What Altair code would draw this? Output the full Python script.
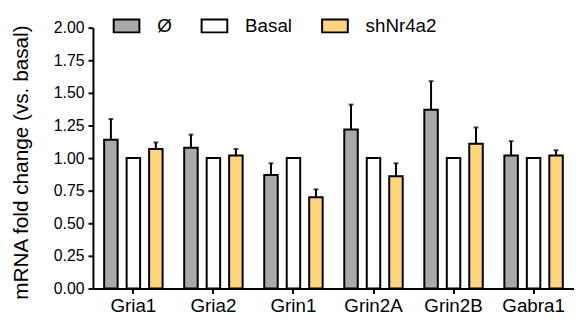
import altair as alt
import pandas as pd

genes = ["Gria1", "Gria2", "Grin1", "Grin2A", "Grin2B", "Gabra1"]
groups = ["Ø", "Basal", "shNr4a2"]
colors = ["#a9a9a9", "#ffffff", "#ffd47a"]

mean_empty = [1.14, 1.08, 0.87, 1.22, 1.37, 1.02]
sem_empty = [0.16, 0.10, 0.09, 0.19, 0.22, 0.11]
mean_basal = [1.00, 1.00, 1.00, 1.00, 1.00, 1.00]
sem_basal = [0.0, 0.0, 0.0, 0.0, 0.0, 0.0]
mean_sh = [1.07, 1.02, 0.70, 0.86, 1.11, 1.02]
sem_sh = [0.05, 0.05, 0.06, 0.10, 0.125, 0.04]

rows = []
for g, means, sems in zip(groups, [mean_empty, mean_basal, mean_sh], [sem_empty, sem_basal, sem_sh]):
    for gene, m, s in zip(genes, means, sems):
        rows.append({"gene": gene, "group": g, "mean": m, "top": m + s, "sem": s})
df = pd.DataFrame(rows)

FONT = "Liberation Sans"

xenc = alt.X("gene:N", sort=genes, title=None,
             scale=alt.Scale(paddingInner=0.27, paddingOuter=0.14),
             axis=alt.Axis(labelAngle=0, labelFontSize=19, labelColor="black", labelFont=FONT,
                           labelAlign="center", labelBaseline="top",
                           tickSize=5, tickWidth=2, tickColor="black",
                           domainWidth=2, domainColor="black", labelPadding=3))
xoff = alt.XOffset("group:N", sort=groups, scale=alt.Scale(paddingInner=0.4, paddingOuter=0))

yscale = alt.Scale(domain=[0, 2])
yaxis = alt.Axis(values=[0, 0.25, 0.5, 0.75, 1.0, 1.25, 1.5, 1.75, 2.0], format=".2f",
                 labelFontSize=16, labelColor="black", labelFont=FONT, labelOverlap=False,
                 tickSize=5, tickWidth=2, tickColor="black",
                 domainWidth=2, domainColor="black", grid=False,
                 titleFontSize=21, titleFontWeight="normal", titleFont=FONT,
                 titleColor="black", titlePadding=22, titleY=136, labelPadding=4)
ytitle = "mRNA fold change (vs. basal)"

base = alt.Chart(df)

bars = base.mark_bar(stroke="black", strokeWidth=2).encode(
    x=xenc,
    xOffset=xoff,
    y=alt.Y("mean:Q", scale=yscale, title=ytitle, axis=yaxis),
    color=alt.Color("group:N", sort=groups,
                    scale=alt.Scale(domain=groups, range=colors),
                    legend=alt.Legend(title=None, orient="none", direction="horizontal",
                                      legendX=20, legendY=-16, padding=0,
                                      symbolType="M-1,-0.5H1V0.5H-1Z", symbolSize=676,
                                      symbolStrokeColor="black", symbolStrokeWidth=2,
                                      symbolOpacity=1,
                                      labelFontSize=19, labelFont=FONT, labelColor="black",
                                      labelOffset=17, columnPadding=26)),
)

err = base.transform_filter("datum.sem > 0")

rules = err.mark_rule(color="black", strokeWidth=2).encode(
    x=xenc,
    xOffset=xoff,
    y=alt.Y("mean:Q", scale=yscale, title=ytitle, axis=yaxis),
    y2="top:Q",
)

caps = err.mark_tick(color="black", thickness=2, size=5, orient="horizontal").encode(
    x=xenc,
    xOffset=xoff,
    y=alt.Y("top:Q", scale=yscale, title=ytitle, axis=yaxis),
)

chart = alt.layer(rules, caps, bars).properties(
    width=487, height=264,
    autosize=alt.AutoSizeParams(type="none"),
    padding={"left": 86, "top": 18, "right": 0, "bottom": 30},
).configure_view(stroke=None).configure_axis(labelFont=FONT, titleFont=FONT)

chart.save("out.html", embed_options={"renderer": "svg", "actions": False})
